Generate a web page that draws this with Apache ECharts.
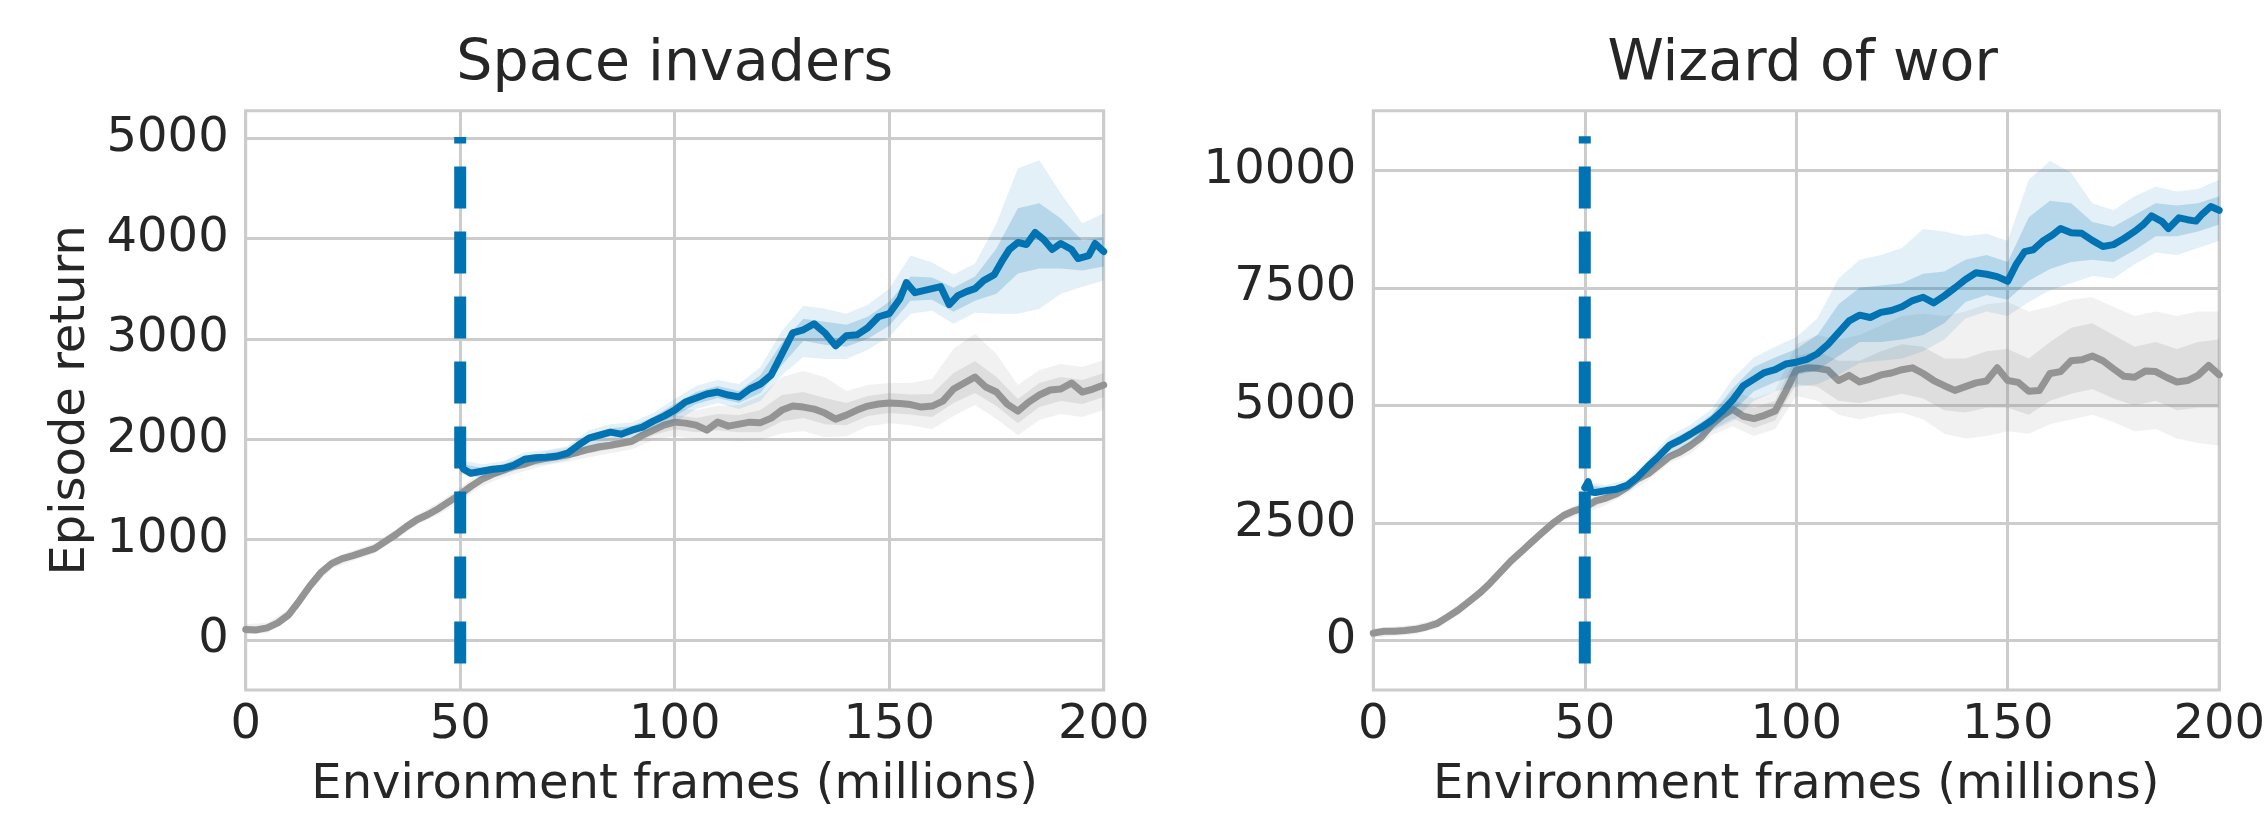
<!DOCTYPE html>
<html>
<head>
<meta charset="utf-8">
<script src="https://cdn.jsdelivr.net/npm/echarts@6/dist/echarts.min.js"></script>
<style>
  html, body { margin: 0; padding: 0; background: #ffffff; }
  #chart { width: 2268px; height: 815px; }
</style>
</head>
<body>
<div id="chart"></div>
<script>
// ---- Data: episode return vs environment frames (millions) ----

// Space invaders: baseline (gray) mean curve
const siGray = [[0,105],[2.5,100],[5,120],[7.5,170],[10,250],[12.5,390],[15,540],[17.5,670],[20,760],[22.5,810],
  [25,840],[27.5,875],[30,910],[32.5,980],[35,1050],[37.5,1130],[40,1200],[42.5,1250],[45,1310],[47.5,1380],
  [50,1450],[52.5,1530],[55,1600],[57.5,1650],[60,1690],[62.5,1730],[65,1750],[67.5,1790],[70,1810],[72.5,1825],
  [75,1845],[77.5,1870],[80,1900],[82.5,1925],[85,1940],[87.5,1960],[90,1980],[92.5,2040],[95,2090],[97.5,2140],
  [100,2170],[102.5,2160],[105,2140],[107.5,2090],[110,2170],[112.5,2130],[115,2150],[117.5,2170],[120,2165],
  [122.5,2210],[125,2290],[127.5,2330],[130,2320],[132.5,2300],[135,2260],[137.5,2200],[140,2240],[142.5,2290],
  [145,2330],[147.5,2350],[150,2360],[152.5,2355],[155,2345],[157.5,2320],[160,2330],[162.5,2380],[165,2500],
  [167.5,2560],[170,2620],[172.5,2520],[175,2470],[177.5,2350],[180,2280],[182.5,2370],[185,2440],[187.5,2490],
  [190,2500],[192.5,2560],[195,2470],[197.5,2500],[200,2540]];

// Space invaders: blue method mean curve (starts at 50M frames)
const siBlue = [[50,1760],[50.8,1700],[52.5,1660],[55,1680],[57.5,1700],[60,1710],[62.5,1740],[65,1800],[67.5,1815],
  [70,1820],[72.5,1830],[75,1860],[77.5,1940],[80,2010],[82.5,2040],[85,2070],[87.5,2050],[90,2090],[92.5,2120],
  [95,2180],[97.5,2230],[100,2290],[102.5,2370],[105,2410],[107.5,2450],[110,2470],[112.5,2440],[115,2420],
  [117.5,2500],[120,2550],[122.5,2640],[125,2850],[127.5,3060],[130,3090],[132.5,3150],[135,3060],[137.5,2930],
  [140,3030],[142.5,3040],[145,3110],[147.5,3220],[150,3250],[152.5,3400],[154,3560],[156,3460],[158,3480],
  [160,3500],[162,3520],[164,3340],[166,3430],[168,3470],[170,3500],[172,3580],[174.5,3640],[176.5,3790],
  [178,3890],[180,3960],[182,3940],[184,4060],[186,3990],[188,3890],[190,3950],[192.5,3890],[194,3800],
  [196.5,3830],[198,3950],[200,3870]];

// Space invaders bands: [x, innerLow, innerHigh, outerLow, outerHigh]
const siGrayBand = [[0,80,130,55,155],[5,95,145,70,170],[10,225,275,200,300],[15,515,565,490,590],[20,735,785,710,810],
  [25,815,865,790,890],[30,885,935,860,960],[35,1025,1075,1000,1100],[40,1175,1225,1150,1250],[45,1280,1340,1250,1370],
  [50,1415,1485,1380,1520],[55,1565,1635,1530,1670],[60,1655,1725,1620,1760],[65,1715,1785,1680,1820],
  [70,1775,1845,1740,1880],[75,1810,1880,1775,1915],[80,1860,1940,1820,1980],[85,1900,1980,1860,2020],
  [90,1940,2020,1900,2060],[95,2040,2140,1990,2190],[100,2100,2240,2030,2310],[105,2070,2210,2000,2290],
  [110,2090,2250,2000,2330],[115,2070,2240,1980,2340],[120,2070,2290,1990,2430],[125,2180,2440,2060,2620],
  [130,2210,2470,2080,2680],[135,2150,2410,2020,2620],[140,2140,2360,2030,2480],[145,2230,2430,2130,2540],
  [150,2260,2460,2160,2560],[155,2245,2445,2140,2560],[160,2220,2450,2100,2600],[165,2360,2660,2230,2900],
  [170,2460,2780,2340,3050],[175,2330,2620,2200,2850],[180,2160,2400,2040,2540],[185,2320,2560,2190,2690],
  [190,2380,2620,2250,2750],[195,2350,2590,2220,2720],[200,2420,2660,2290,2790]];
const siBlueBand = [[50,1685,1755,1650,1790],[55,1645,1715,1610,1750],[60,1675,1745,1640,1780],[65,1765,1835,1730,1870],
  [70,1785,1855,1750,1890],[75,1825,1895,1790,1930],[80,1970,2050,1930,2090],[85,2030,2110,1990,2150],
  [90,2050,2130,2010,2170],[95,2140,2220,2100,2260],[100,2230,2350,2170,2400],[105,2350,2470,2300,2530],
  [110,2410,2530,2360,2590],[115,2360,2480,2300,2550],[120,2460,2640,2380,2720],[125,2740,2960,2640,3080],
  [130,2980,3200,2820,3330],[135,2940,3170,2800,3300],[140,2920,3140,2800,3250],[145,3000,3220,2890,3340],
  [150,3130,3370,3020,3500],[155,3380,3620,3250,3830],[160,3390,3610,3280,3760],[165,3270,3510,3150,3640],
  [170,3380,3620,3260,3750],[175,3450,3900,3250,4150],[180,3650,4300,3250,4700],[185,3700,4350,3300,4780],
  [190,3700,4200,3450,4450],[195,3680,3980,3520,4150],[200,3720,4010,3580,4250]];

// Wizard of wor: baseline (gray) mean curve
const wwGray = [[0,160],[2.5,200],[5,200],[7.5,215],[10,240],[12.5,290],[15,360],[17.5,500],[20,645],[22.5,820],
  [25,1000],[27.5,1210],[30,1450],[32.5,1690],[35,1890],[37.5,2100],[40,2300],[42.5,2500],[45,2660],[47.5,2760],
  [50,2830],[52.5,2970],[55,3030],[57.5,3120],[60,3260],[62.5,3440],[65,3550],[67.5,3730],[70,3910],[72.5,4010],
  [75,4150],[77.5,4320],[80,4590],[82.5,4780],[85,4920],[87.5,4770],[90,4720],[92.5,4790],[95,4880],[97.5,5300],
  [100,5750],[102.5,5800],[105,5790],[107.5,5750],[110,5530],[112.5,5640],[115,5500],[117.5,5560],[120,5650],
  [122.5,5690],[125,5760],[127.5,5800],[130,5680],[132.5,5530],[135,5420],[137.5,5320],[140,5400],[142.5,5480],
  [145,5520],[147.5,5800],[150,5530],[152.5,5490],[155,5300],[157.5,5320],[160,5680],[162.5,5720],[165,5950],
  [167.5,5970],[170,6050],[172.5,5950],[175,5780],[177.5,5620],[180,5600],[182.5,5730],[185,5720],[187.5,5600],
  [190,5500],[192.5,5530],[195,5640],[197.5,5850],[200,5650]];

// Wizard of wor: blue method mean curve
const wwBlue = [[50,3250],[50.8,3380],[51.5,3160],[52.5,3150],[55,3190],[57.5,3220],[60,3300],[62.5,3480],[65,3710],
  [67.5,3920],[70,4150],[72.5,4260],[75,4390],[77.5,4530],[80,4680],[82.5,4880],[85,5120],[87.5,5420],[90,5560],
  [92.5,5700],[95,5760],[97.5,5880],[100,5920],[102.5,5980],[105,6100],[107.5,6300],[110,6550],[112.5,6800],
  [115,6920],[117.5,6870],[120,6980],[122.5,7020],[125,7100],[127.5,7230],[130,7300],[132.5,7180],[135,7330],
  [137.5,7500],[140,7680],[142.5,7820],[145,7790],[147.5,7740],[150,7640],[152,8000],[154,8270],[156,8310],
  [158.5,8510],[160.5,8620],[162.5,8760],[165,8670],[167.5,8660],[170,8510],[172.5,8380],[175,8420],[177.5,8550],
  [180,8700],[182,8840],[184,9030],[186.5,8910],[188,8760],[190.5,8990],[192.5,8950],[194.5,8920],[196,9070],
  [198,9230],[200,9150]];

// Wizard of wor bands: [x, innerLow, innerHigh, outerLow, outerHigh]
const wwGrayBand = [[0,110,210,60,260],[5,150,250,100,300],[10,190,290,140,340],[15,310,410,260,460],[20,595,695,545,745],
  [25,950,1050,900,1100],[30,1400,1500,1350,1550],[35,1840,1940,1790,1990],[40,2250,2350,2200,2400],
  [45,2610,2710,2560,2760],[50,2760,2900,2690,2970],[55,2960,3100,2890,3170],[60,3190,3330,3120,3400],
  [65,3480,3620,3410,3690],[70,3840,3980,3770,4050],[75,4060,4240,3970,4330],[80,4480,4700,4370,4810],
  [85,4720,5120,4550,5300],[90,4520,4950,4350,5150],[95,4680,5100,4500,5300],[100,5450,6050,5200,6300],
  [105,5400,6150,5100,6500],[110,5100,5950,4800,6400],[115,5050,5950,4700,6500],[120,5150,6150,4800,6700],
  [125,5250,6300,4850,6900],[130,5150,6250,4700,6950],[135,4900,6000,4400,6900],[140,4850,6000,4300,7000],
  [145,4950,6150,4350,7150],[150,4950,6200,4450,7200],[155,4800,6000,4400,7000],[160,5100,6350,4600,7100],
  [165,5250,6650,4700,7250],[170,5350,6750,4800,7300],[175,5150,6500,4650,7100],[180,5000,6250,4450,6900],
  [185,5100,6350,4500,7000],[190,4900,6200,4300,6900],[195,4950,6350,4200,7000],[200,4950,6400,4150,7000]];
const wwBlueBand = [[50,3200,3320,3140,3380],[55,3130,3250,3070,3310],[60,3240,3360,3180,3420],[65,3640,3780,3570,3850],
  [70,4050,4250,3950,4350],[75,4290,4490,4190,4590],[80,4560,4800,4450,4920],[85,4870,5370,4670,5570],
  [90,5300,5820,5100,6020],[95,5500,6020,5300,6250],[100,5650,6200,5400,6450],[105,5750,6500,5450,6850],
  [110,6050,7150,5650,7700],[115,6350,7500,5900,8100],[120,6350,7550,5950,8200],[125,6400,7600,6000,8350],
  [130,6500,7800,6150,8750],[135,6750,7850,6400,8700],[140,7200,8100,6850,8600],[145,7350,8200,7000,8650],
  [150,7250,8050,6900,8500],[155,7650,9000,7200,9800],[160,7900,9350,7450,10200],[165,8050,9300,7600,9950],
  [170,8100,8900,7750,9300],[175,8050,8800,7700,9150],[180,8300,9050,8000,9450],[185,8600,9300,8250,9650],
  [190,8600,9250,8200,9550],[195,8700,9300,8350,9600],[200,8850,9450,8500,9800]];

// Vertical marker at 50M frames: [x, yBottom, yTop]
const siMarker = [50, -234, 5012];
const wwMarker = [50, -485, 10725];

// Axis ticks and ranges
const xTicks = [0, 50, 100, 150, 200];
const siYTicks = [0, 1000, 2000, 3000, 4000, 5000];
const wwYTicks = [0, 2500, 5000, 7500, 10000];
const siYRange = [-499, 5273];
const wwYRange = [-1050, 11267];

const titles = ['Space invaders', 'Wizard of wor'];
const xName = 'Environment frames (millions)';
const yName = 'Episode return';

// ---- Styling ----
const FONT = 'DejaVu Sans';
const TEXT = '#262626';
const GRID = '#cccccc';
const BLUE = '#0173B2';
const GRAY = '#949494';

const grids = [
  { left: 245.7, top: 110.7, width: 858, height: 584.4 },
  { left: 1373.3, top: 110.7, width: 858.7, height: 584.4 }
];

function xAxisFor(i) {
  return {
    type: 'value', gridIndex: i, min: xTicks[0], max: xTicks[xTicks.length - 1], interval: 50,
    axisLine: { show: false }, axisTick: { show: false },
    axisLabel: { fontSize: 48, color: TEXT, fontFamily: FONT, margin: 11.5, formatter: v => String(v) },
    splitLine: { show: true, lineStyle: { color: GRID, width: 3 } },
    name: xName, nameLocation: 'middle', nameGap: 72,
    nameTextStyle: { fontSize: 48, color: TEXT, fontFamily: FONT }
  };
}

function yAxisFor(i, range, ticks, withName) {
  const ax = {
    type: 'value', gridIndex: i, min: range[0], max: range[1],
    axisLine: { show: false },
    axisTick: { show: false, customValues: ticks },
    axisLabel: { fontSize: 48, color: TEXT, fontFamily: FONT, margin: 17, customValues: ticks, formatter: v => String(v) },
    splitLine: { show: true, lineStyle: { color: GRID, width: 3 } }
  };
  if (withName) {
    ax.name = yName;
    ax.nameLocation = 'middle';
    ax.nameGap = 150;
    ax.nameTextStyle = { fontSize: 48, color: TEXT, fontFamily: FONT };
  }
  return ax;
}

// Shaded band drawn as one polygon through the axis scales
function band(i, rows, loIdx, hiIdx, color, opacity, z) {
  return {
    type: 'custom', xAxisIndex: i, yAxisIndex: i, z: z, silent: true, clip: true,
    data: rows.map(r => [r[0], r[loIdx], r[hiIdx]]),
    encode: { x: 0, y: [1, 2] },
    renderItem: function (params, api) {
      if (params.dataIndex !== 0) return null;
      const top = rows.map(r => api.coord([r[0], r[hiIdx]]));
      const bottom = rows.slice().reverse().map(r => api.coord([r[0], r[loIdx]]));
      return {
        type: 'polygon',
        shape: { points: top.concat(bottom) },
        style: { fill: color, opacity: opacity, stroke: null }
      };
    }
  };
}

function curve(i, data, color, z) {
  return {
    type: 'line', xAxisIndex: i, yAxisIndex: i, z: z, data: data,
    showSymbol: false, symbol: 'none', silent: true,
    lineStyle: { color: color, width: 7, cap: 'round', join: 'round' }
  };
}

function marker(i, m) {
  return {
    type: 'line', xAxisIndex: i, yAxisIndex: i, z: 20, silent: true,
    data: [[m[0], m[1]], [m[0], m[2]]], showSymbol: false, symbol: 'none',
    lineStyle: { color: BLUE, width: 12, type: [42, 23], cap: 'butt' }
  };
}

function panel(i, grayRows, blueRows, grayLine, blueLine, m) {
  return [
    band(i, grayRows, 3, 4, GRAY, 0.13, 2),
    band(i, grayRows, 1, 2, GRAY, 0.2, 3),
    curve(i, grayLine, GRAY, 4),
    band(i, blueRows, 3, 4, BLUE, 0.11, 5),
    band(i, blueRows, 1, 2, BLUE, 0.2, 6),
    curve(i, blueLine, BLUE, 7),
    marker(i, m)
  ];
}

const chart = echarts.init(document.getElementById('chart'), null, { renderer: 'canvas' });

chart.setOption({
  animation: false,
  backgroundColor: '#ffffff',
  textStyle: { fontFamily: FONT },
  grid: grids.map(g => Object.assign({ show: true, borderColor: GRID, borderWidth: 3, backgroundColor: '#ffffff', containLabel: false }, g)),
  xAxis: [xAxisFor(0), xAxisFor(1)],
  yAxis: [yAxisFor(0, siYRange, siYTicks, true), yAxisFor(1, wwYRange, wwYTicks, false)],
  graphic: grids.map((g, i) => ({
    type: 'text',
    x: g.left + g.width / 2,
    y: 65,
    style: { text: titles[i], fill: TEXT, font: '57px "' + FONT + '"', textAlign: 'center', textVerticalAlign: 'middle' }
  })),
  series: [].concat(
    panel(0, siGrayBand, siBlueBand, siGray, siBlue, siMarker),
    panel(1, wwGrayBand, wwBlueBand, wwGray, wwBlue, wwMarker)
  )
});
</script>
</body>
</html>
